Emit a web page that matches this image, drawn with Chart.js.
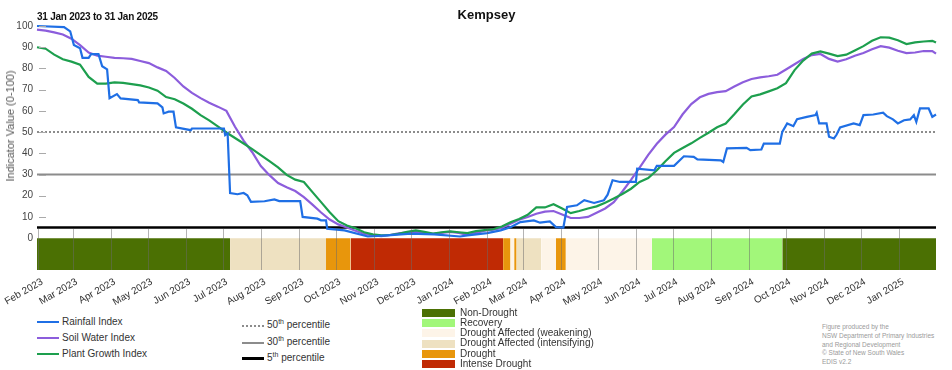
<!DOCTYPE html>
<html>
<head>
<meta charset="utf-8">
<script src="https://cdn.jsdelivr.net/npm/chart.js@4.4.1/dist/chart.umd.min.js"></script>
<style>
    body { margin: 0; background: #fff; font-family: "Liberation Sans", Arial, sans-serif; }
    #wrap { position: relative; width: 952px; height: 370px; overflow: hidden; }
    #chartBox { position: absolute; left: 0; top: 0; width: 952px; height: 310px; }
    #period { position: absolute; left: 37px; top: 11px; font-size: 10px; letter-spacing: -0.25px; font-weight: bold; color: #111; }
    #yTitle { position: absolute; left: 10px; top: 126px; transform: translate(-50%, -50%) rotate(-90deg);
              font-size: 11px; color: #555; white-space: nowrap; }
    .row { position: absolute; font-size: 10px; color: #333; white-space: nowrap; line-height: 16px; }
    .row .ln { display: inline-block; width: 22px; vertical-align: middle; margin-right: 3px; }
    .row sup { font-size: 7px; }
    .cat { position: absolute; font-size: 10px; color: #333; white-space: nowrap; line-height: 10.3px; }
    .cat .bx { display: inline-block; width: 33px; height: 8px; vertical-align: middle; margin-right: 5px; }
    #note { position: absolute; left: 822px; top: 323px; font-size: 6.5px; line-height: 8.8px; color: #9a9a9a; }
</style>
</head>
<body>
<div id="wrap">
    <div id="chartBox"><canvas id="drought_chart"></canvas></div>
    <div id="period">31 Jan 2023 to 31 Jan 2025</div>
    <div id="yTitle">Indicator Value (0-100)</div>
    <div id="legend"></div>
    <div id="note">Figure produced by the<br>NSW Department of Primary Industries<br>and Regional Development<br>© State of New South Wales<br>EDIS v2.2</div>
</div>
<script>
// 期間 (31 Jan 2023 から 31 Jan 2025 まで)
const startDate = '2023-01-31';
const endDate = '2025-01-31';

// x軸の月ラベル
const monthLabels = ['Feb 2023', 'Mar 2023', 'Apr 2023', 'May 2023', 'Jun 2023', 'Jul 2023',
    'Aug 2023', 'Sep 2023', 'Oct 2023', 'Nov 2023', 'Dec 2023', 'Jan 2024',
    'Feb 2024', 'Mar 2024', 'Apr 2024', 'May 2024', 'Jun 2024', 'Jul 2024',
    'Aug 2024', 'Sep 2024', 'Oct 2024', 'Nov 2024', 'Dec 2024', 'Jan 2025'];

// y軸の目盛り
const yTicks = [0, 10, 20, 30, 40, 50, 60, 70, 80, 90, 100];

// 系列名
const seriesNames = ['Rainfall Index', 'Soil Water Index', 'Plant Growth Index'];

// 土壌水分指数 (31 Jan 2023 から毎週、最後は 31 Jan 2025)
const soilWater = [98.3, 97.8, 97, 96, 94, 91, 87.5, 86, 85.5, 85, 84.8, 84.5, 83.5, 82.5, 80.5,
    78.8, 75.5, 71.5, 68.5, 66, 63.8, 62, 60, 52.5, 46, 40.5, 34, 29.7, 26, 24, 22.2, 19.3,
    15.8, 12.1, 8.8,
    6.5, 5, 3.5, 2, 1.3, 1, 1.5, 2.3, 2.8, 3, 2.5, 2, 2.5, 3, 2.5, 1.5, 2.5, 3.5, 4, 4.8,
    6.8, 8.7, 10, 11.5, 12.5, 12.8, 11.2, 9.5, 9.5, 10, 12, 14, 17, 22, 27.5, 33.3, 39.3,
    44.5, 48.8, 52.4, 58.4, 63.2, 66.4, 68, 68.8, 69.3, 71.5, 73.5, 75, 75.8, 76.3, 77,
    79.5, 82, 84.5, 86.3, 86.8, 84.5, 83.2, 84.3, 86, 87.3, 89, 90.5, 89.8, 88.3, 87.2,
    87.5, 88.2, 88.2, 87];

// 植物成長指数 (同じ週ごと)
const plantGrowth = [90, 89.3, 86.5, 84.3, 83.2, 81.8, 76, 72.8, 72.8, 73.4, 73.2, 72.6, 72, 71,
    69.5, 66.5, 65.5, 63.5, 61, 58, 55.5, 52.7, 49.8, 47.2, 44.6, 42, 39.1, 36.3, 33.4,
    29.8, 27.6, 26.5, 21.7, 17, 12.2,
    8, 6, 4.7, 2.8, 1.8, 1.3, 1.5, 2, 3, 3.7, 3, 2.2, 2.8, 3.2, 2.8, 2.4, 3.3, 3.8, 4.2,
    5.5, 7.5, 9, 11, 14.5, 14.5, 16, 14, 11.8, 12.8, 14, 15, 16.7, 18.7, 20.8, 23.3, 26.5,
    28.3, 32, 36.3, 40.2, 42.5, 44.7, 47.3, 49.7, 52.3, 54, 58.4, 63, 66.8, 67.8, 69.2,
    70.7, 73.1, 79.2, 83.7, 87, 88, 87, 85.8, 86.5, 88.5, 90.5, 93, 94.7, 94.5, 93.3,
    91.5, 92.3, 92.7, 93, 92.2];

// 降水指数の日付 (31 Jan 2023 からの経過日数) と値
const rainfallDay = [0, 22, 27, 30, 35, 37, 42, 44, 50, 53, 57, 59, 65, 68, 82, 83, 98, 102, 103,
    107, 111, 113, 125, 126, 152, 153, 155, 157, 163, 168, 171, 174, 185, 193, 197, 214,
    216, 228, 231, 235, 236, 250, 269, 285, 304, 323, 344, 350, 366, 377, 385, 393, 404,
    409, 417, 422, 428, 431, 439, 445, 453, 461, 464, 468, 474, 487, 488, 502, 504, 518,
    526, 534, 537, 556, 558, 561, 577, 580, 589, 591, 604, 606, 610, 615, 618, 626, 633,
    634, 636, 642, 644, 648, 650, 653, 664, 669, 672, 680, 688, 691, 696, 700, 705, 710,
    713, 715, 718, 725, 728, 731];
const rainfall = [100, 99.5, 97.5, 91, 89.5, 85, 85, 86.7, 86.7, 81, 79.6, 66, 67.9, 65.9, 65.1, 64,
    63.5, 61.6, 58.8, 59.6, 59.6, 52.2, 50.9, 51.7, 51.7, 48.6, 49.4, 21.3, 20.7, 21.3, 20.2,
    17.1, 17.4, 18.3, 17.5, 17.5, 10, 9.2, 8.4, 8.4, 4.5, 3.7, 0.8, 1.3, 2.1, 1.8, 0.8, 1.3,
    2.4, 3.7, 5.2, 7.6, 8.4, 7.3, 7.9, 5.2, 5, 14.7, 15.5, 17.9, 16.6, 17.9, 20.5, 27.3,
    26.5, 26.5, 32.8, 32, 34.1, 34.1, 38.6, 38.3, 37.1, 36.7, 35.9, 42.3, 42.6, 41.5, 41.8,
    44.6, 44.6, 50.1, 54.1, 52.8, 56.1, 57.2, 58, 59.1, 54.1, 54.1, 47.8, 47, 48.6, 52.2,
    54.1, 53.3, 58, 58.3, 59.1, 57.5, 56, 54.1, 55.6, 56, 58, 54.8, 61.2, 61.2, 57.2, 58.3];

// パーセンタイル線
const percentileValues = [50, 30, 5];
const percentileLabels = ['50', '30', '5'];

// 干ばつ区分 (開始日と区分名)
const categoryStarts = ['2023-01-31', '2023-07-07', '2023-09-23', '2023-10-13', '2024-02-14',
    '2024-02-20', '2024-02-23', '2024-02-25', '2024-03-16', '2024-03-28', '2024-04-05',
    '2024-06-14', '2024-09-28'];
const categorySeq = ['Non-Drought', 'Drought Affected (intensifying)', 'Drought', 'Intense Drought',
    'Drought', 'Drought Affected (weakening)', 'Drought', 'Drought Affected (intensifying)',
    'Drought Affected (weakening)', 'Drought', 'Drought Affected (weakening)', 'Recovery',
    'Non-Drought'];
const categoryNames = ['Non-Drought', 'Recovery', 'Drought Affected (weakening)',
    'Drought Affected (intensifying)', 'Drought', 'Intense Drought'];

// 色
const seriesColors = ['#1f6fe5', '#8c5ddc', '#1d9f4e'];
const categoryColors = ['#4b7003', '#a2f77a', '#fdf4e8', '#eee1c1', '#e8960c', '#c02a04'];

// 日付を経過日数に変換
function toDay(str) {
    const p = str.split('-').map(Number);
    const s = startDate.split('-').map(Number);
    return (Date.UTC(p[0], p[1] - 1, p[2]) - Date.UTC(s[0], s[1] - 1, s[2])) / 86400000;
}
const totalDays = toDay(endDate);
const monthNames = ['Jan', 'Feb', 'Mar', 'Apr', 'May', 'Jun', 'Jul', 'Aug', 'Sep', 'Oct', 'Nov', 'Dec'];
const monthDays = monthLabels.map(function(label) {
    const parts = label.split(' ');
    const m = monthNames.indexOf(parts[0]) + 1;
    return toDay(parts[1] + '-' + String(m).padStart(2, '0') + '-01');
});
// 週ごとの日付 (最後の点は終了日)
const weekDays = soilWater.map(function(v, i) { return Math.min(i * 7, totalDays); });

function toPoints(days, values) {
    return values.map(function(v, i) { return { x: days[i], y: v }; });
}

// 月の区切り線と y軸の内側目盛り
const tickLinePlugin = {
    id: 'tickLines',
    afterDatasetsDraw(chart) {
        const { ctx, chartArea, scales } = chart;
        const x = scales.x, y = scales.y;
        ctx.save();
        ctx.lineWidth = 1;
        ctx.strokeStyle = 'rgba(105,105,105,0.5)';
        const top = y.getPixelForValue(5) + 1.5;
        x.ticks.forEach(function(t) {
            const px = Math.round(x.getPixelForValue(t.value)) + 0.5;
            ctx.beginPath();
            ctx.moveTo(px, top);
            ctx.lineTo(px, chartArea.bottom);
            ctx.stroke();
        });
        ctx.strokeStyle = '#aaa';
        y.ticks.forEach(function(t) {
            if (t.value <= 0) return;
            const py = Math.round(y.getPixelForValue(t.value)) + 0.5;
            ctx.beginPath();
            ctx.moveTo(chartArea.left + 2, py);
            ctx.lineTo(chartArea.left + 9, py);
            ctx.stroke();
        });
        ctx.restore();
    }
};

function createChart() {
    const datasets = [];
    // 指数の線
    const seriesData = [toPoints(rainfallDay, rainfall), toPoints(weekDays, soilWater), toPoints(weekDays, plantGrowth)];
    const seriesOrder = [1, 3, 2];
    seriesNames.forEach(function(name, i) {
        datasets.push({
            type: 'line', label: name, data: seriesData[i],
            borderColor: seriesColors[i], borderWidth: 2.2, pointRadius: 0, tension: 0,
            fill: false, clip: 4, order: seriesOrder[i]
        });
    });
    // パーセンタイル線
    const pctColors = ['#8c8c8c', '#8c8c8c', '#000'];
    const pctWidths = [2, 2, 2.6];
    const pctDash = [[2, 2], [], []];
    percentileValues.forEach(function(v, i) {
        datasets.push({
            type: 'line', label: percentileLabels[i] + 'th percentile',
            data: [{ x: 0, y: v }, { x: totalDays, y: v }],
            borderColor: pctColors[i], borderWidth: pctWidths[i], borderDash: pctDash[i],
            pointRadius: 0, fill: false, order: 5 + i
        });
    });
    // 干ばつ区分の帯
    categorySeq.forEach(function(cat, i) {
        const from = toDay(categoryStarts[i]);
        const to = i + 1 < categoryStarts.length ? toDay(categoryStarts[i + 1]) : totalDays;
        const color = categoryColors[categoryNames.indexOf(cat)];
        datasets.push({
            type: 'line', label: cat,
            data: [{ x: from, y: 0 }, { x: to, y: 0 }],
            borderWidth: 0, borderColor: color, backgroundColor: color,
            pointRadius: 0, fill: { value: -15 }, order: 20
        });
    });

    const ctx = document.getElementById('drought_chart').getContext('2d');
    new Chart(ctx, {
        type: 'line',
        data: { datasets: datasets },
        options: {
            responsive: true,
            maintainAspectRatio: false,
            animation: false,
            layout: { padding: { left: 0, right: 16, top: 0, bottom: 0 } },
            scales: {
                x: {
                    type: 'linear', min: 0, max: totalDays,
                    grid: { display: false, drawTicks: false },
                    border: { display: false },
                    afterBuildTicks: function(scale) {
                        scale.ticks = monthDays.map(function(d) { return { value: d }; });
                    },
                    ticks: {
                        autoSkip: false, maxRotation: 30, minRotation: 30, padding: 6, labelOffset: 4,
                        color: '#333', font: { size: 10, family: '"Liberation Sans", Arial, sans-serif' },
                        callback: function(value, index) { return monthLabels[index]; }
                    },
                    afterFit: function(scale) {
                        scale.height = 40;
                        // 回転ラベルによる左余白を無効にする
                        scale.paddingLeft = 0;
                        scale.paddingRight = 0;
                    }
                },
                y: {
                    type: 'linear', min: -15, max: 100,
                    grid: { display: false, drawTicks: false },
                    border: { display: false },
                    afterBuildTicks: function(scale) {
                        scale.ticks = yTicks.map(function(v) { return { value: v }; });
                    },
                    ticks: { padding: 4, color: '#444', font: { size: 10, family: '"Liberation Sans", Arial, sans-serif' } },
                    afterFit: function(scale) { scale.width = 37; }
                }
            },
            plugins: {
                legend: { display: false },
                tooltip: { enabled: false },
                title: {
                    display: true, text: 'Kempsey', fullSize: false, color: '#111',
                    font: { size: 13, weight: 'bold', family: '"Liberation Sans", Arial, sans-serif' },
                    padding: { top: 7.7, bottom: 2.7 }
                }
            }
        },
        plugins: [tickLinePlugin]
    });
}

// 凡例を作成
function createLegend() {
    const legend = document.getElementById('legend');
    let html = '';
    const lineTops = [314, 330, 346];
    seriesNames.forEach(function(name, i) {
        html += '<div class="row" style="left:37px;top:' + lineTops[i] + 'px">' +
            '<span class="ln" style="border-top:2.5px solid ' + seriesColors[i] + '"></span>' + name + '</div>';
    });
    const pctTops = [314, 331, 347];
    const pctStyles = ['2px dotted #8c8c8c', '2.5px solid #8c8c8c', '3px solid #000'];
    percentileLabels.forEach(function(p, i) {
        html += '<div class="row" style="left:242px;top:' + pctTops[i] + 'px">' +
            '<span class="ln" style="border-top:' + pctStyles[i] + '"></span>' + p + '<sup>th</sup> percentile</div>';
    });
    categoryNames.forEach(function(name, i) {
        html += '<div class="cat" style="left:422px;top:' + (307.5 + i * 10.25) + 'px">' +
            '<span class="bx" style="background:' + categoryColors[i] + '"></span>' + name + '</div>';
    });
    legend.innerHTML = html;
}

createLegend();
createChart();
</script>
</body>
</html>
